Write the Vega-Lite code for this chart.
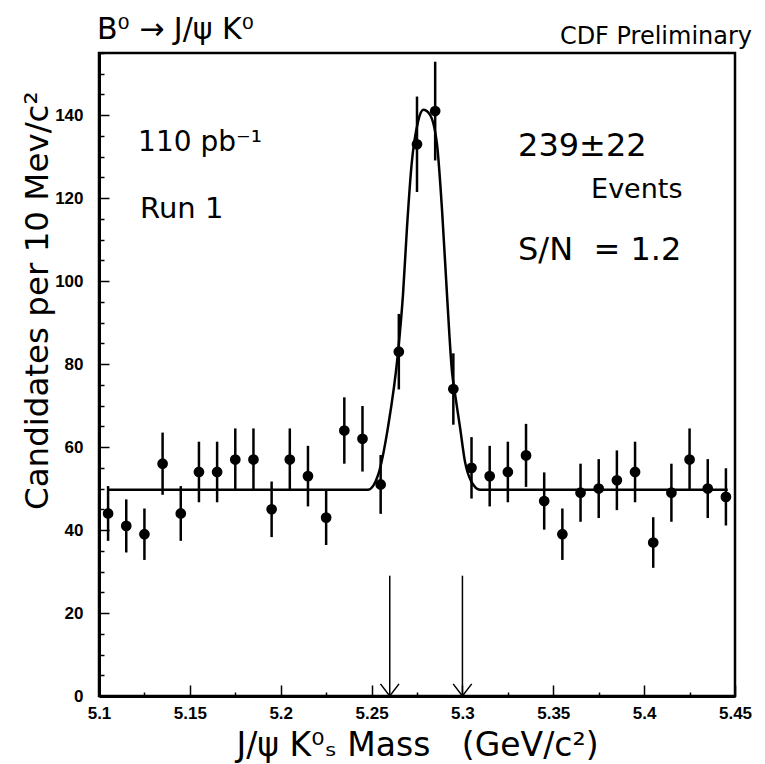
{
  "$schema": "https://vega.github.io/schema/vega-lite/v6.json",
  "width": 636,
  "height": 643,
  "autosize": {"type": "none"},
  "padding": {"left": 99, "top": 53, "right": 30, "bottom": 68},
  "background": "white",
  "config": {
    "view": {"stroke": "black", "strokeWidth": 2.5},
    "font": "DejaVu Sans"
  },
  "datasets": {
    "bins": [
      {"m": 5.105, "n": 44, "lo": 37.4, "hi": 50.6},
      {"m": 5.115, "n": 41, "lo": 34.6, "hi": 47.4},
      {"m": 5.125, "n": 39, "lo": 32.8, "hi": 45.2},
      {"m": 5.135, "n": 56, "lo": 48.5, "hi": 63.5},
      {"m": 5.145, "n": 44, "lo": 37.4, "hi": 50.6},
      {"m": 5.155, "n": 54, "lo": 46.7, "hi": 61.3},
      {"m": 5.165, "n": 54, "lo": 46.7, "hi": 61.3},
      {"m": 5.175, "n": 57, "lo": 49.5, "hi": 64.5},
      {"m": 5.185, "n": 57, "lo": 49.5, "hi": 64.5},
      {"m": 5.195, "n": 45, "lo": 38.3, "hi": 51.7},
      {"m": 5.205, "n": 57, "lo": 49.5, "hi": 64.5},
      {"m": 5.215, "n": 53, "lo": 45.7, "hi": 60.3},
      {"m": 5.225, "n": 43, "lo": 36.4, "hi": 49.6},
      {"m": 5.235, "n": 64, "lo": 56.0, "hi": 72.0},
      {"m": 5.245, "n": 62, "lo": 54.1, "hi": 69.9},
      {"m": 5.255, "n": 51, "lo": 43.9, "hi": 58.1},
      {"m": 5.265, "n": 83, "lo": 73.9, "hi": 92.1},
      {"m": 5.275, "n": 133, "lo": 121.5, "hi": 144.5},
      {"m": 5.285, "n": 141, "lo": 129.1, "hi": 152.9},
      {"m": 5.295, "n": 74, "lo": 65.4, "hi": 82.6},
      {"m": 5.305, "n": 55, "lo": 47.6, "hi": 62.4},
      {"m": 5.315, "n": 53, "lo": 45.7, "hi": 60.3},
      {"m": 5.325, "n": 54, "lo": 46.7, "hi": 61.3},
      {"m": 5.335, "n": 58, "lo": 50.4, "hi": 65.6},
      {"m": 5.345, "n": 47, "lo": 40.1, "hi": 53.9},
      {"m": 5.355, "n": 39, "lo": 32.8, "hi": 45.2},
      {"m": 5.365, "n": 49, "lo": 42.0, "hi": 56.0},
      {"m": 5.375, "n": 50, "lo": 42.9, "hi": 57.1},
      {"m": 5.385, "n": 52, "lo": 44.8, "hi": 59.2},
      {"m": 5.395, "n": 54, "lo": 46.7, "hi": 61.3},
      {"m": 5.405, "n": 37, "lo": 30.9, "hi": 43.1},
      {"m": 5.415, "n": 49, "lo": 42.0, "hi": 56.0},
      {"m": 5.425, "n": 57, "lo": 49.5, "hi": 64.5},
      {"m": 5.435, "n": 50, "lo": 42.9, "hi": 57.1},
      {"m": 5.445, "n": 48, "lo": 41.1, "hi": 54.9}
    ],
    "fit": [
      {"m": 5.105, "c": 49.7},
      {"m": 5.248, "c": 49.7},
      {"m": 5.2536, "c": 53.3},
      {"m": 5.259, "c": 64.7},
      {"m": 5.2646, "c": 83.0},
      {"m": 5.2673, "c": 96.8},
      {"m": 5.2695, "c": 113.0},
      {"m": 5.272, "c": 128.0},
      {"m": 5.2756, "c": 138.5},
      {"m": 5.2785, "c": 141.3},
      {"m": 5.282, "c": 140.2},
      {"m": 5.286, "c": 133.0},
      {"m": 5.2888, "c": 117.0},
      {"m": 5.2915, "c": 96.8},
      {"m": 5.2943, "c": 78.0},
      {"m": 5.296, "c": 72.6},
      {"m": 5.2987, "c": 64.7},
      {"m": 5.3014, "c": 56.5},
      {"m": 5.305, "c": 51.6},
      {"m": 5.3097, "c": 49.7},
      {"m": 5.446, "c": 49.7}
    ],
    "window": [{"m": 5.26}, {"m": 5.3}]
  },
  "encoding": {
    "x": {
      "type": "quantitative",
      "scale": {"domain": [5.1, 5.45], "nice": false, "zero": false},
      "axis": {
        "values": [5.1, 5.125, 5.15, 5.175, 5.2, 5.225, 5.25, 5.275, 5.3, 5.325, 5.35, 5.375, 5.4, 5.425, 5.45],
        "labelExpr": "round(datum.value*1000) % 50 === 0 ? format(datum.value, '.3~f') : ''",
        "tickSize": {"condition": {"test": "round(datum.value*1000) % 50 === 0", "value": -11}, "value": -4},
        "tickColor": "black",
        "tickWidth": 1.5,
        "domainColor": "black",
        "domainWidth": 3,
        "grid": false,
        "labelFont": "Liberation Sans",
        "labelFontWeight": "bold",
        "labelFontSize": 17,
        "labelColor": "black",
        "labelPadding": 20,
        "labelFlush": false,
        "labelOverlap": false,
        "title": "J/ψ K⁰ₛ Mass\u00a0\u00a0\u00a0(GeV/c²)",
        "titleFont": "DejaVu Sans",
        "titleFontSize": 33,
        "titleFontWeight": "normal",
        "titleColor": "black",
        "titleY": 49,
        "titleBaseline": "middle"
      }
    },
    "y": {
      "type": "quantitative",
      "scale": {"domain": [0, 155], "nice": false, "zero": true},
      "axis": {
        "values": [0, 5, 10, 15, 20, 25, 30, 35, 40, 45, 50, 55, 60, 65, 70, 75, 80, 85, 90, 95, 100, 105, 110, 115, 120, 125, 130, 135, 140, 145, 150, 155],
        "labelExpr": "datum.value % 20 === 0 ? datum.label : ''",
        "tickSize": {"condition": {"test": "datum.value % 20 === 0", "value": -10}, "value": -5},
        "tickColor": "black",
        "tickWidth": 1.5,
        "domainColor": "black",
        "domainWidth": 3,
        "grid": false,
        "labelFont": "Liberation Sans",
        "labelFontWeight": "bold",
        "labelFontSize": 17,
        "labelColor": "black",
        "labelPadding": 26,
        "labelFlush": false,
        "labelOverlap": false,
        "title": "Candidates per 10 Mev/c²",
        "titleFont": "DejaVu Sans",
        "titleFontSize": 32.5,
        "titleFontWeight": "normal",
        "titleColor": "black",
        "titleX": -62,
        "titleY": 38,
        "titleAlign": "right",
        "titleBaseline": "middle"
      }
    }
  },
  "layer": [
    {
      "data": {"name": "fit"},
      "mark": {"type": "line", "color": "black", "strokeWidth": 2.5, "interpolate": "monotone"},
      "encoding": {"x": {"field": "m"}, "y": {"field": "c"}}
    },
    {
      "data": {"name": "bins"},
      "mark": {"type": "rule", "color": "black", "strokeWidth": 2.5},
      "encoding": {"x": {"field": "m"}, "y": {"field": "lo"}, "y2": {"field": "hi"}}
    },
    {
      "data": {"name": "bins"},
      "mark": {"type": "point", "filled": true, "color": "black", "opacity": 1, "size": 115},
      "encoding": {"x": {"field": "m"}, "y": {"field": "n"}}
    },
    {
      "data": {"name": "window"},
      "mark": {"type": "rule", "color": "black", "strokeWidth": 1.5},
      "encoding": {"x": {"field": "m"}, "y": {"datum": 0}, "y2": {"datum": 29}}
    },
    {
      "data": {"name": "window"},
      "mark": {"type": "point", "shape": "M -1 -1.3 L 0 0 L 1 -1.3", "filled": false, "color": "black", "strokeWidth": 1.5, "opacity": 1, "size": 346},
      "encoding": {"x": {"field": "m"}, "y": {"datum": 0}}
    },
    {
      "data": {"values": [{}]},
      "mark": {"type": "text", "text": "B⁰ → J/ψ K⁰", "align": "left", "baseline": "middle", "fontSize": 30, "font": "DejaVu Sans", "color": "black"},
      "encoding": {"x": {"datum": 5.0989}, "y": {"datum": 160.5}}
    },
    {
      "data": {"values": [{}]},
      "mark": {"type": "text", "text": "CDF Preliminary", "align": "right", "baseline": "middle", "fontSize": 24, "font": "DejaVu Sans", "color": "black"},
      "encoding": {"x": {"datum": 5.4594}, "y": {"datum": 158.8}}
    },
    {
      "data": {"values": [{}]},
      "mark": {"type": "text", "text": "110 pb⁻¹", "align": "left", "baseline": "middle", "fontSize": 28, "font": "DejaVu Sans", "color": "black"},
      "encoding": {"x": {"datum": 5.1215}, "y": {"datum": 133.2}}
    },
    {
      "data": {"values": [{}]},
      "mark": {"type": "text", "text": "Run 1", "align": "left", "baseline": "middle", "fontSize": 29, "font": "DejaVu Sans", "color": "black"},
      "encoding": {"x": {"datum": 5.1226}, "y": {"datum": 117.3}}
    },
    {
      "data": {"values": [{}]},
      "mark": {"type": "text", "text": "239±22", "align": "left", "baseline": "middle", "fontSize": 32, "font": "DejaVu Sans", "color": "black"},
      "encoding": {"x": {"datum": 5.3306}, "y": {"datum": 132.6}}
    },
    {
      "data": {"values": [{}]},
      "mark": {"type": "text", "text": "Events", "align": "left", "baseline": "middle", "fontSize": 27, "font": "DejaVu Sans", "color": "black"},
      "encoding": {"x": {"datum": 5.3708}, "y": {"datum": 122.0}}
    },
    {
      "data": {"values": [{}]},
      "mark": {"type": "text", "text": "S/N\u00a0 = 1.2", "align": "left", "baseline": "middle", "fontSize": 32, "font": "DejaVu Sans", "color": "black"},
      "encoding": {"x": {"datum": 5.3306}, "y": {"datum": 107.6}}
    }
  ]
}
